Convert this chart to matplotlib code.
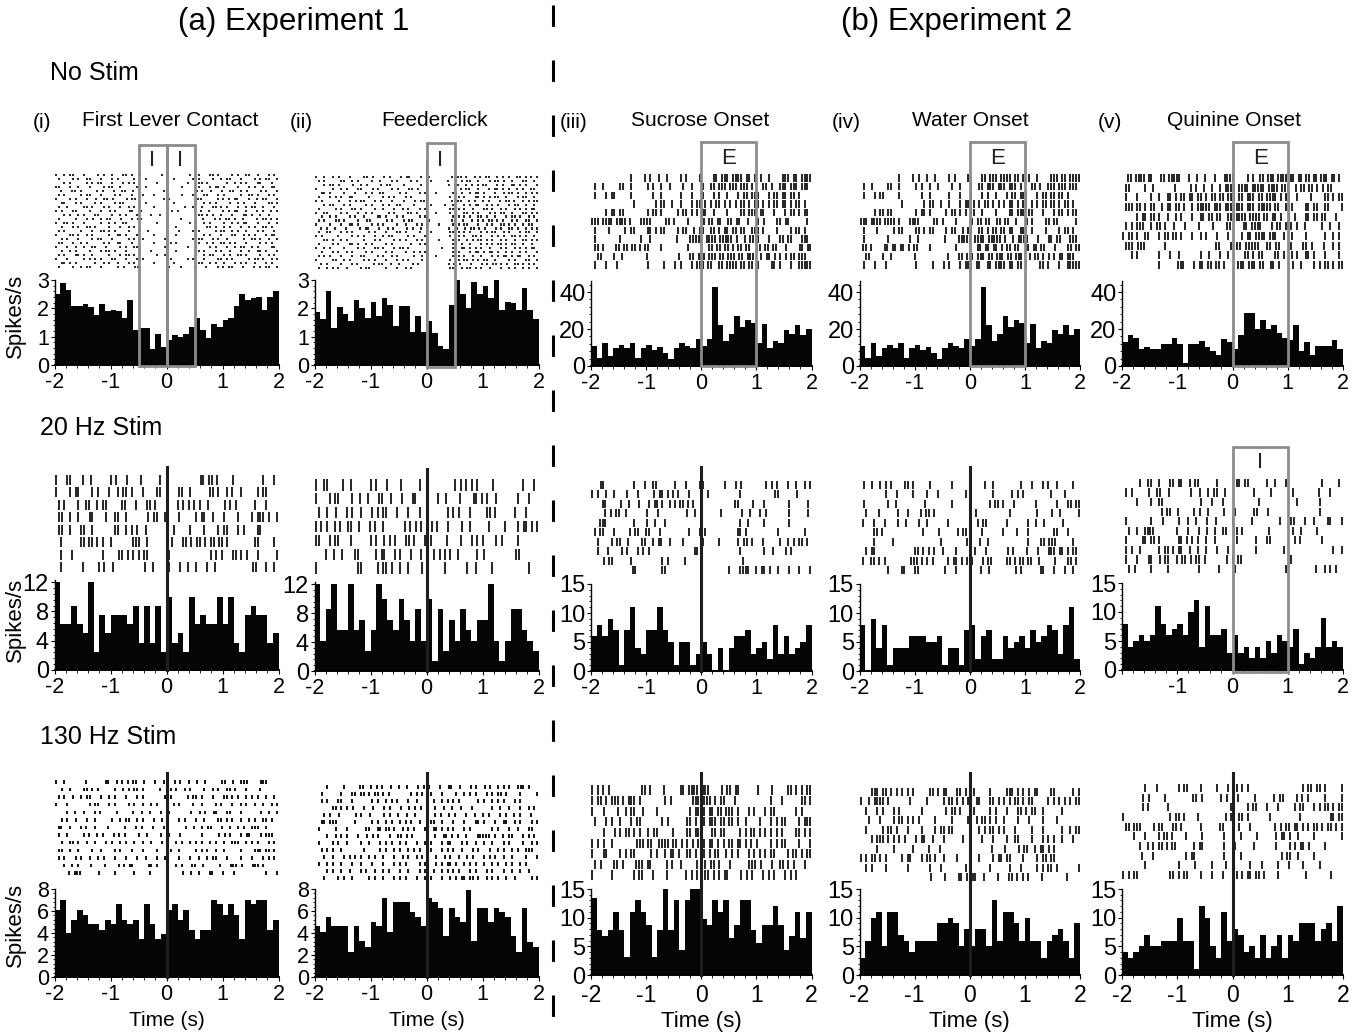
import numpy as np
import matplotlib
matplotlib.use("Agg")
import matplotlib.pyplot as plt
from matplotlib import transforms
from matplotlib.lines import Line2D
from matplotlib.patches import Rectangle
from matplotlib.ticker import MultipleLocator, AutoMinorLocator

# Figure size in pixels (dpi 100)
W, H = 1366, 1034

plt.rcParams['font.family'] = ['Liberation Sans', 'DejaVu Sans']
plt.rcParams['axes.unicode_minus'] = False
NARROW = ['Liberation Sans Narrow', 'Liberation Sans', 'DejaVu Sans']

# ---------------------------------------------------------------
# PSTH values, 40 bins of 0.1 s from -2 to 2 s (spikes/s)
# ---------------------------------------------------------------
LEVER_NOSTIM = [2.5, 2.9, 2.65, 2.1, 2.1, 2.15, 2.05, 1.75, 2.15, 1.9,
                1.95, 1.9, 1.65, 2.3, 1.25, 1.3, 1.3, 0.55, 1.1, 0.65,
                0.9, 1.05, 1.0, 1.1, 1.35, 1.65, 1.25, 0.95, 1.45, 1.35,
                1.6, 1.65, 2.1, 2.5, 2.3, 2.35, 2.4, 1.95, 2.4, 2.6]
FEEDER_NOSTIM = [1.87, 1.63, 2.6, 1.3, 2.06, 1.8, 1.57, 2.3, 2.0, 1.66,
                 2.24, 1.74, 2.36, 2.13, 1.36, 2.1, 2.07, 1.17, 1.74, 1.17,
                 1.57, 1.14, 0.67, 0.56, 2.13, 3.0, 2.5, 2.0, 2.94, 2.5,
                 2.8, 2.38, 3.0, 1.93, 2.24, 2.19, 1.93, 2.73, 1.93, 1.63]
SUCROSE_NOSTIM = [10.7, 4.6, 12.5, 5.5, 9.8, 11.4, 9.8, 12.5, 4.6, 9.8,
                  11.6, 8.7, 10.5, 6.8, 3.7, 9.8, 12.5, 11.0, 9.8, 14.4,
                  10.7, 14.4, 43.0, 22.0, 13.8, 17.5, 27.0, 21.0, 25.0, 23.5,
                  12.5, 22.5, 9.6, 13.8, 12.5, 19.3, 17.5, 22.0, 16.6, 20.0]
WATER_NOSTIM = list(SUCROSE_NOSTIM)
QUININE_NOSTIM = [13, 17, 15.3, 9.4, 10.3, 9.4, 9.4, 12, 12, 15,
                  12, 1.8, 12, 12, 13.7, 10.3, 8, 6, 14.4, 13,
                  9.4, 17, 28.6, 28.6, 20, 24.7, 20, 22, 18, 15.3,
                  14, 22, 8, 13, 6, 11, 11, 11, 14, 9]

LEVER_20HZ = [12, 6.25, 6.25, 8.75, 6.25, 5, 12, 2.5, 7.5, 5,
              7.5, 7.5, 7.5, 6.25, 8.75, 3.75, 8.75, 3.75, 8.75, 2.5,
              10, 3.75, 5, 2.5, 10, 6.25, 7.5, 6.25, 6.25, 10,
              6.25, 10, 3.75, 2.5, 7.5, 8.75, 7.5, 7.5, 3.75, 5]
FEEDER_20HZ = [12, 4.2, 8.5, 12, 5.6, 5.6, 12, 5.6, 7.1, 2.8,
               5.6, 12, 9.9, 7.1, 5.6, 9.9, 7.1, 4.2, 8.5, 4.2,
               9.9, 1.4, 8.5, 2.8, 7.1, 4.2, 8.5, 5.6, 4.2, 7.1,
               7.1, 12, 4.2, 1.4, 4.2, 8.5, 8.5, 5.6, 4.2, 2.8]
SUCROSE_20HZ = [6, 8, 6, 9, 7, 1, 7, 11, 4, 3,
                7, 7, 11, 7, 5, 1, 5, 5, 1, 3,
                5, 3, 0, 4, 0, 4, 6, 6, 7, 3,
                4, 5, 2, 8, 3, 6, 3, 4, 5, 8]
WATER_20HZ = [8, 0, 9, 4, 8, 1, 4, 4, 4, 6,
              6, 6, 5, 5, 6, 1, 4, 4, 1, 7,
              8, 2, 6, 7, 2, 2, 6, 4, 5, 6,
              4, 7, 5, 6, 8, 7, 3, 8, 11, 2]
QUININE_20HZ = [8, 4, 5, 6, 5, 6, 11, 8, 6, 7,
                8, 6, 10, 12, 4, 11, 6, 6, 7, 3,
                6, 3, 4, 2, 4, 2, 5, 3, 6, 5,
                4, 7, 1, 3, 2, 4, 9, 4, 5, 4]

LEVER_130HZ = [6.1, 7, 4, 5.2, 6.1, 5.6, 4.8, 4.8, 4.3, 5.2,
               4.8, 6.6, 5.2, 4.8, 5.2, 3.5, 6.6, 4.8, 3.5, 3.9,
               6.1, 6.6, 5.2, 6.1, 4.3, 3.5, 4.3, 4.3, 7, 6.6,
               5.6, 6.6, 5.6, 3.5, 7, 6.6, 7, 7, 4.3, 5.2]
FEEDER_130HZ = [4.6, 4.1, 5.5, 4.6, 4.6, 4.6, 2.3, 4.6, 3.3, 2.7,
                5.0, 4.6, 7.2, 4.1, 6.8, 6.8, 6.8, 5.9, 5.5, 4.6,
                7.2, 6.8, 6.3, 3.7, 6.3, 5.5, 5.0, 7.9, 3.3, 6.3,
                6.3, 5.0, 6.3, 5.9, 5.5, 3.7, 2.3, 6.3, 3.2, 2.7]
SUCROSE_130HZ = [13.4, 7.8, 6.8, 7.8, 11, 7.8, 3.2, 11, 13.1, 11,
                 8.8, 3.2, 7.8, 15, 7.8, 13.1, 4.4, 13.1, 15, 15,
                 9.8, 8.8, 13.1, 11, 13.1, 6.5, 8.8, 13.1, 13.1, 7.8,
                 5.6, 8.8, 8.8, 12, 8.8, 4.4, 6.8, 11, 6.5, 11]
WATER_130HZ = [3, 6, 10, 11, 5, 11, 11, 7, 6, 4,
               6, 6, 6, 6, 9, 9, 10, 9, 5, 8,
               5, 8, 8, 5, 13, 6, 11, 11, 9, 6,
               10, 6, 6, 3, 6, 7, 8, 6, 3, 9]
QUININE_130HZ = [4, 3, 4, 5, 7, 5, 5, 6, 6, 6,
                 10, 6, 6, 1, 12, 10, 5, 3, 11, 6,
                 8, 7, 4, 5, 3, 7, 3, 5, 7, 3,
                 7, 6, 9, 9, 9, 6, 8, 9, 6, 12]

# ---------------------------------------------------------------
# Rasters: one string per trial, 80 cells of 0.05 s from -2 to 2 s
# ---------------------------------------------------------------
LEVER_RASTER_NOSTIM = [
    "o..o.oo...o....o.o..o...oo.o..o.......o.........o..o...oo.o....o.o..oo..o...o.o.",
    ".o....o.o..oo...o...o.o.....o...o.........o......o.o....o..o.oo...o....o.o.oo..o",
    "...o.o.....o.o.oo...o...o.o.o.......o..........o...oo.o......o..o.o.o...oo...o..",
    "oo...o..o...o....o.oo..o.....o..o.......o....o.....o...o.oo.o....o...o.o..o..oo.",
    "..o...oo.o.....o.o...o..oo..o..........o...........o.o..o...o..oo..o.o....o.o...o",
    ".o.o.....o.oo...o....o.o...o...o...o.........o...o...oo...o.o.....o..oo.o...o.o.",
    "o....o.o...o..o..oo.o....o.oo.........o.o.........oo.....o.o.o.oo...o..o.oo...o",
    "..oo...o.o....o.o....o.oo.....o.o.........o.......o..o.o.o....o..o.o...o....oo.o",
    ".o..o.....oo.o...o.o...o..o.o......o..........o..o..o...oo.o.o...o..o.oo..o...o.",
    "o.o...oo....o...o..o.o....oo..o..........o.o.....o.o..o....o.o.oo..o...o.o..o.o",
    "...o.o..o.o...oo....o..o.o...o....o..o.............oo.o.o..o...o...oo.o..o..o...",
    ".o.....o...o.o..o.oo...o...o.oo........o....o.......o...o.o.oo.o..o....o.oo.o.o",
    "o..oo.o...o.....o..o.o..oo....o.....o...........o.o..o.o....o..o.o.oo...o...o..o",
    "..o...o.o..oo.o....o...o..o.o...........o..o......o...oo.o..o.o...o..o.o..oo.o..",
    ".o.o.....o...o..oo.o.o....o...o..o..........o....o.o.....o.oo..o.o..o...o.o...o.",
    "o....oo.o..o.o.....o..oo.o...o.....o.......o......o..o.o...o...oo..o.o.o...o.oo.",
    "..o.o...o....o.oo...o.....o.o..o.......o.........o.oo...o.o..o.....o..oo.o..o..o",
    ".oo...o..o.o.....o.o..oo...o.......o.....o.o.......o..o.o..oo.o.o...o....o.o.o..",
    "o...o..o..o..oo...o....o.o..oo.........o.......o..o....o.o...o..o.oo..o.o....oo.",
    "..o..o.o....o...o.oo.o...o....o...o........o......oo.o...o.o..o...o..o..oo.o...o",
    ".o.o...oo.o..o.....o...o.oo.o.......o..o..........o..o.oo...o.o..oo.o....o..o.o.",
    "o...o.....o.o.o.o...oo...o...o.o.........o.....o.o...o....oo.o.o.....o.oo.o..o.o",
    "..oo.o.o......o..o.o..o...o.o......o......o........oo..o.o..o...o.o.o..o...o.o..",
    ".o....o..o.oo...o.....o.o...oo..........o...o....o...o...o.o.oo...o...o.o.oo..o",
]
FEEDER_RASTER_NOSTIM = [
    "o..o..o.o...o....oo.o...o.o...o.oo...o..o.......o.oo.o..o.o.oo..o.o.o..oo.o.o.o",
    ".o.o.....oo..o.o....o..o...o.o....o.o....o.....o..o.o.oo..o...o.oo.o..o...oo..o.",
    "...o.oo.o....o..o.o....o.oo....o.....o.o.......o.oo..o.o.o.oo...o.o..oo.o.o...o",
    "o.....o..o.o...oo...o.o....o.o...oo.o............o.o.oo..o...o.oo.o.o..o.o..oo.",
    "..oo.o....o...o...o.o..oo.....o.o....o.o...o.....oo.o..o.oo.o...o..o.oo.o..o.o.o",
    ".o...o.o.o..oo.....o....o.o.o...o.o.....o.......o..o.o...oo.o.o.oo..o...o.oo..o.",
    "o.o.....o...o.o.oo...o.o...o...o...o.oo.........o.oo..o.o..o.o...o.oo.o..o.o.oo",
    "...o.oo...o.o.....o.o...o.o..oo....o.....o....o..o...o.o.oo..o.o.o...o.oo..o..o.",
    ".o.....o.o...oo.o....o..o...o..o.o...o.o........oo.o.o..o...oo.o..o.o..o.o.o.oo.",
    "o..oo....o.o...o..o.o.....o.o....oo.o......o....o.o..oo.o.o...o.o.oo..o...oo.o.o",
    "..o..o.o....o.o..o....oo.o...o.o.....o.o.........o.o.o.o..oo.o..o...o.oo.o..o.o.",
    ".o.o...oo.o....o..oo.....o.o...o.oo.....o.......oo..o..o.o.o.oo.o.o..o.o..oo..o",
    "o....o...o..oo.o....o.o.o....o..o...o.o.....o....o.o.oo...o..o.o..oo.o.o..o.oo..",
    "..o.o..o...o....o.oo...o..o.o....o.o..o.........o..o..o.oo.o.o...o.o..oo.o..o.o.o",
    ".o..oo...o.o.o.....o.o...o...oo.o....o...o......oo.o.o.o...o.o.oo..o.o...o.oo..o",
    "o.o.....o....o.o.o...o..o.oo.....o.o...o........o..o.o..oo.o...o.o.o..oo.o.o..o.",
    "...oo.o..o.o.....o...o.o....o.o.o...o.o.....o....o.o..o.o.oo.o.o..o.o..o..oo.o.o",
    ".o....o.o...oo.o..o.o....o.o......o..o.o.........oo.o..o...o.o.o.oo.o.oo..o..o..",
    "o..o.o....o....o.o...oo.o...o.oo.o......o....o...o..oo.o.o.o..o...o.o..o.o.o.oo.",
    "..o...o.o..o.o....o.o....o.o....o..o.o.o.........o.o...o.oo.o.oo.o..o.o..o.o...o",
    ".o.o.o...o...o..oo....o.o..o.o.....o..o....o.....o.o.o..o..o...o.o.oo.o.oo..o.o.",
    "o.....oo..o.o....o.o.o...o...o.o.o....o.........o..o.oo.o.o.oo..o....o.o...oo..o",
    "..o.o....o...o.o.....o.oo..o..o....o.o..o.......o.o.o...o...o.o.oo.o.o..oo.o.o.o.",
    ".o..o.o.o..o....o.oo.....o...o..o.o.....o.......oo..o.oo.o.o..o...o..o.o..o.o..o",
]
SUCROSE_RASTER_NOSTIM = [
    "..............|....|.|..|..|....|.|....|....||.|||.||||.||.|.|..|....|||.||.||||",
    ".|..|.....||..|.....|.|..|..|....|..|...|..||.|||.|||.|||.|...||.|..|||.|||.|||.",
    ".|...|.||.....|.......|..|......|...|...|...|.|..|...|.||.|||...|.||.||.||.|....",
    "...............|.......|.||..|..|...|.||.|.|.||.|.|.|.||.|.||.|.|.||.||.|.||.|..",
    ".....|.||.||........|.||.|.....|.||.|.|.||..|....|....||.|||.||...|...|.||.|.||.",
    "|||.||||.||||.|...||||.....||.|....|.....|.||.||..||.||..|...|.|....||.||......|.",
    ".|....|.....|.||....||.|.||....|.||..|.||..||.|.||.||.||..|||.|....|....|.||.|..",
    ".|........|.......|..|.........|....|||||.||||.|||||.|..|.||||...|...||.||...|||.",
    ".||.|....||.||.||.|.||....|.........|.......||.||.||.|.||.||..||.||.||...|....||.||",
    "..||....|..|........|...........|...||.|||.|||.||.|||.||.|||..|.||.|.|.|.||.|||..",
    ".|...|...|..........|.....|...|.|...|.|||.||..||.||||.||.||.|....||.|...|..|||||",
]
WATER_RASTER_NOSTIM = list(SUCROSE_RASTER_NOSTIM)
QUININE_RASTER_NOSTIM = [
    "..||.||||.||...||.|||||...|..|..|...|...||||.....|.|..||.|||.||||.||.||.||.||.|||.||.|.",
    ".||.....|..|.......|.....|.|..|..|..|.||||.||||.|||||.||||.|||..|.||.||.|.|.||....",
    ".|...|....|..|..||.|.||.||.||.|.||.||.|||.||.|||.||.||||.|.||..|....|....||.|.||",
    ".|||.||.|.||..|.||.||.|..|.|||||.|||.|||||||.|||.|||||.||..|||....||.||..||....|",
    ".....|.||.||.|..|..|.|...|..||.||.||..|||||||.||||.||.||.|..|.|...||.||.||...|..",
    ".|.|.|||..|.||.|..|...|....|....|....||....||.||||...|.||.|||.|..|.....|..|..|.",
    "|.||.|..||...|.||.||.|...|..|.|...|...|....|.||.||||.|||..|..|....|......|..|.|.",
    ".|||.|||......|................||...|.||.|||||..||.||...|...||.|...|..|.|.",
    "...|.|.......|...|..|.......|..|...|..|.....||.|.||....||.|..|.|..||.|...|....|.",
    ".............|......|||...|.||.||.||.|....|||.|||.||..||.|....|..|....|.|.||.|.||",
]

LEVER_RASTER_20HZ = [
    "|...||....|..|......|.|...|....|......|..............||.||.|.....|..........|...|.",
    "|....|.||....|.|...|..|.||.|...|....||..|...||..|......||.|..|.|..|.....|.||....",
    ".|.|....|..||..|.||.....||...|...||.|...|...|.|.|.|.|..|.....|.|.|......|...|....",
    ".||..|..|...||....|..||..|.......|.||..||...|.....|.||..|...|....|....|.|||.|..|",
    ".||..|...||..|.......||..|.|.|..|.......|.|.....|....|....|.||...|.|....||......",
    "..|......||.||.|.|..|.......|||..|........|...||.|.||.|.||.||.|.........||.....|.",
    "..|...|..........|.....||.|.|.|.||......||..............|.|.|...||.|.|...|......|",
    "..|.......|.....|.|..|...........|..|.....|...|..|..|...|..|.............||...|..|.",
]
FEEDER_RASTER_20HZ = [
    "|..||.....|..|......|.|...|....|......|............|.|.|.|.|.....|..........|...|.",
    "|....|.||....|..|..|...||..|...|...||.......|..|....|....||.|.|..|.......|...|...",
    ".|..|..|...|.|..|...|.|.||...|...|...|.........|.|.|...|.....||.|......|...|....",
    "|.|.|..|.|..||..|...|.|..|.......|.|.|.|...|.|...|....|..|......|.....|....|.||.|.|",
    "||...|.||....|......|.|..|.|.|...||.|...|.|.....|....|...|.|.|....|.|.....|.......",
    "....|..|..|....||......|.||...|.|...|...|....|.|.|.|..|......|..|...........||.......",
    "|..............||.....|.||.|..|..|....|.|.....|.......|..|.....|............|...",
]
SUCROSE_RASTER_20HZ = [
    "...||..........|...|..||......|...|....||.......|...|.|........|.|.|...|..|..|.|",
    "|.|..|..|....|...|.....|.||.|.|.|...|......|...........|............||......|.....",
    "....||.....|..|...|...|.||.|..|.|.||.|.|...............||.....|...|.........|......|.",
    ".....|.|.||..|.......|...|..........|..|.........|.......|..|...|.|........|......|.",
    "...|||..........|....|..|...|............................|..|.....|.........|........",
    ".|.||...|.....|.||..||...|..........|...|.|...........||.|...........|.........|..",
    "..|....|.||..|....||..|.||..|....|......|.....|......|.||.|...|.....|..|.|.||.|.",
    "..|...|....|.|...|.|.|................||...............|........|..|....|.|.......",
    "....|.||......|..........|.|.....|....................|........................",
    "...............||.........||.......................|...||||..|.||.|..|...|...|...|",
]
WATER_RASTER_20HZ = [
    ".|..|..|.|.|....||.|.....|.......|...........|..|.........|...|...|.|..|.....|..",
    ".........|...|.....|....|...|.........|.........|......|.|.|.........|....|.....",
    ".|........|..|..........|.........|.............|.||.|...|.......|.......|...||.||",
    "..|....|......|...|....|.||.|...............|............|.........|.....|..|......|",
    ".|...|...|....|..|....|..|.......|..........|.||.......|.......|..|..|......|......",
    ".....||.|..............|.....|......|.||.....|.......|....|...|.........||...|....",
    ".....|......|.................|.........|....|..|..............|....||.|||......|..",
    "..|.||..............||.|.|.|..|....|......|...|.......|.|....|...|...|||.||.|.||.",
    ".|..||.|.|.........|||.|.|.|.....|.||.|.|||...|.||.....||.|.||.||..|.....|....||.|.",
    "..........|....||...||.........|...|....|...|..|.........|.|......||...|...|..|..",
]
QUININE_RASTER_20HZ = [
    "......|..||..|...||.||..|.||......|......||.||......|..|...|............|.....|.",
    ".|.|.....|..||..|.......|..|..|.||..|.........|.....|.......|........|...|....",
    ".....|....|..||.............|...|...|............|.............|.......|........",
    "..............|.||..|.....|.|..|.....|...|......||...|..................|........",
    ".|........|...|.....|..|..|...|..|.....|......|.........|...||...|..|....||...|",
    "..|..|..||||........|...|...|..|..|..||..||.|.........|........|..|.....|.........",
    ".|.....||.||.|......||.|.|.|..|..|.......|......|...||........|.|.......|.......",
    ".|.|..|......|.||.|.||..|..|..|...|...|.........|.........|.................|..|",
    ".|...|...||..|.||..|.||.|.||.|.......|.|.||.................|..................",
    "..|.|.....|.....|..........|......|.....|.................|..........|..|.|.|..",
]

LEVER_RASTER_130HZ = [
    "|..|.......|......||..|.|.|.||..|...|..||..|.|..|..|..|.....||..|..|||....|||....",
    "..|..|....||.|.|.....|..|.|.||.|.....|...|.|..|.|....|..|.|..||.|...|....|......",
    ".|.|..|..|.||...|..|.|...|...|.|.......|.|.....|.||.|...|...||.|.|..|.|.|..|..|.",
    "|...|.......|.||...|.|....|.|..|..|.|...|.|.|....|..|....|.|...|..|.|..|..|..|.|",
    "....|..|..|...|.|.....|.....|..|..|...|..|.......|..|.|..||...||...|......|..|..|",
    "..|.|..|...|..|.....|..|.||..|.|...|..|.....|.|...|..|....||.|.|..|..|.|..||.|..",
    ".||..|...|.|..|....|.....|...|.|...|...|.......|..|..|.||...|..|..|.|..|||..|....",
    ".|..|.....|.|..|.|...|.|.|....|..|....|..|...|.......|.....|.|.|...|.||...|.|||..",
    "..|..||.|..|..|...|.|..|.|..|..|..|...|....|.|..|.|.|..|.|..|..|||..|.|.|...|.|.",
    ".||..|..|....|..|....|.|...|...|....|....|..|.....|.|.|..|..|.....|....|||.||.|.",
    ".|.|...|.|..|..|.|...|...|...|..|...|..|....|...|..|..|.||...|....|...|...|.|.|.",
    "...|..|.|....|....|....|.|.||.....||.|......|.|...||..|.....|...|||.|...|||.|.....",
    ".....|.|||......|.....|......|.....|...........|..|..|...||...|...|...........|...|",
]
FEEDER_RASTER_130HZ = [
    "....|.....|.....||..|.|.|..|..|..|...|.|.|...|..||..|...|.|..|.|..|.|.|..|||.|...",
    "..|......|...||.||.|.||.|.|.......|.|.|..|...|....|..|.|.|...|.|.||.|....|.....|",
    "..|.|...||...|......|.|..|.|.|...|..|...|.|..|.|.|.|......|.|..|.|.|...|.|......",
    "......||.|.|.|...|..|...|.|...|..|.|.|.|..|..|..|..|...|......|..|..|...|..|.|.",
    "...|.|..|.....|.|..|....|.|..|..|..|...|..|.|..|.|...|..|..|.|...|.|..|.|...|..",
    "..||.|||......|.....|.|..|.|..|.|.|..|...||..|...|...|...||.|...|..||..|.|...|.|",
    ".|.....|...|......||..||.||.|..|.|.|...|..||.|.|.|...|.|.......|.|...|..|...||..",
    "....|..|.|.|...|..|.|.|...|..||.|.|....|..|..||.|.|..|...|||||.|..|.||...|.|.|.",
    ".|....|.|..|....|..|...|.|.|..|.|...|..|.|...|.||...|.|..|..|..|...|.|....|..|.|",
    "..|.|.|..|.......|.....|.|..|.|..|.|.|...|...|.|.|..|...|.|...|..|.|..|.|..|||..",
    "...|..|...|.|.|.|..|.|..|...|..|.|..|.|.|..|..|.|..|..|.|...|.|.|..|..|....|...|",
    ".|..|.|..|...|..|...|...|...|.|.|....|.|...|.|.||.|..|.|.|..|..|.|..|.|..|.|....",
    "....|.|..|..|...|.|..|..|.|...|..|...|.|..|..|.|.|.|...|.|...|.|...|..|..|..|...",
    "...|....|.|..|.....|.|..|...|.|.|...|..|.|...|..|.|.||.||.|..|.|.|..|..|.....|.|",
]
SUCROSE_RASTER_130HZ = [
    "|.|.|.|...........||.|....|.....||.||||.|||....|.||.||......|....|.....||.|.|.||",
    "|.||.|.|||.|.|||.|........|.|.......|||.|||.|.||...|............|...|......||.|",
    "|...|....|..|.||..|....|...........|.||.|.||.||.|||.|...|.|...|.||.......|.|...",
    ".|...|.|..|...|.||.......|.|......||.|.||.|||.||.||.|..|....|...|.|.||....|.|||",
    "....|...|.|.||.|.|..|.||.....|....||.|||...||.||.....|.|.||.|.|.|.|.|....||.|.|",
    "|.|.|..|........|||.||..||||.||.|.|.|.|||.||.|.|.||.||.|.|.|....|.|.||....|...|",
    "|...||....|.|.||.....|.|..|.||.|..||.|..|.|.||..|.|.|...|.|.|.|.||....|.||.|.||",
    ".|.|....||.|....|||.||.....|.|..|.....|..|.||.|...|......|||.|...|..||.|.|...|..",
    "|......|.......|.||...|....|......|.|.|..||.|.|.||....|.|.|...|.|.|...|.|.|.....",
]
WATER_RASTER_130HZ = [
    "....|||.||.|.|.|.|.|.....||.|.||...||.|.||.....|.....|||.|.|.|.||....||......|.|",
    "|..|.||||.|.......|.....|.....|.||.|.|.|..||...||.|.|.|.||.|.||.....|.|.|.|.|.||",
    "..|...|.|...|.|.......|........|.||.|....|.....|.|...|...||.|.||..|......|......",
    "...|...|....|.||.|.|.|.....|.....|.....|..|.||.|.|..|....|...|....|....|........",
    "..|.....|.||.|...|....|....|.||.||......|..|.|.||.|.|...|.....|...|......|..|.||",
    "....|.|||.|.|.|.|...|.||..|...|......|..|...|...|....|..||....|...|.|.|..|...|..",
    "......|.....|......|.....|...|..........|.......|....|....|.||..|.||.|.|.........",
    "|.|.||.|.|.....|.||...|.||.|..|....|.......|....|.||.||....|....|.||.||.........",
    "..|.|....|.......|.......|...|........|........|......|...|.....|.|.||.|.......|",
    ".........................|....|....||.|.||..|....|...||.|.|.|....|........|....",
]
QUININE_RASTER_130HZ = [
    "........|...|.......|.||....|.....|...|.||.|.|...................|.||.||.|.....|",
    ".......|.|.....|.........||.|......|.|.|.|.....|......|.||....|.|.|.....|.....|",
    ".......|.|......|......................|.....|.||...|...|.....|.||...|.|.||.|.||",
    "|................|.||.|....|.........|.||.||.|.......|..........|..........||.||",
    ".||.|||....|.||...||.|......|......||.....|...|........|.|.||.||.|.|.||.|.||.|.|",
    "....|...|....|.||.|....|.....|.......|.....|.....|......|.||.|..|.....|.........|",
    "......|..|.|.||.|.||......|.||.......|...|......|.......|....|.|.||.|.....|......",
    ".......|...|...........|.||..........|.....|..............|.||..|.....|..........",
    "........|...........|.....|.....|....|........|...|.....|...|....|.....|........",
    "|.|.||...........||.|.||....|...|...|....|.|.||.||.|....|.........|........|....",
]

BIN_EDGES = np.arange(40) * 0.1 - 2.0

fig = plt.figure(figsize=(W / 100, H / 100), dpi=100)
fig.patch.set_facecolor('white')

# column extents (pixels) of the -2..2 s axes
COLS = [(54.5, 278.5), (314.5, 538.5), (591, 811.5), (859.5, 1080), (1122, 1343)]
BOX_GREY = '#8c8c8c'


def fx(px):
    return px / W


def fy(py):
    return 1 - py / H


def hist_panel(col, y_top, y_bot, values, ymax, yticks, xlabels=None,
               narrow_y=False, narrow_x=False):
    x0, x1 = COLS[col]
    ax = fig.add_axes([fx(x0), fy(y_bot), (x1 - x0) / W, (y_bot - y_top) / H])
    ax.bar(BIN_EDGES, values, width=0.1, align='edge', color='#050505', linewidth=0)
    ax.set_xlim(-2, 2)
    ax.set_ylim(0, ymax)
    ax.set_yticks(yticks)
    ax.xaxis.set_major_locator(MultipleLocator(1))
    ax.xaxis.set_minor_locator(MultipleLocator(0.2))
    ax.yaxis.set_minor_locator(AutoMinorLocator(5))
    if xlabels is not None:
        ax.set_xticks([-2, -1, 0, 1, 2])
        ax.set_xticklabels(xlabels)
    for side in ('top', 'right'):
        ax.spines[side].set_visible(False)
    ax.spines['left'].set_linewidth(1.0)
    ax.spines['bottom'].set_linewidth(1.4)
    ax.tick_params(which='major', direction='out', length=3, width=0.8,
                   labelsize=15.5, pad=1)
    ax.tick_params(axis='x', which='major', pad=2)
    ax.tick_params(which='minor', direction='out', length=1.8, width=0.6)
    if narrow_y:
        for t in ax.get_yticklabels():
            t.set_family(NARROW)
            t.set_fontsize(17)
    if narrow_x:
        ax.tick_params(axis='x', which='major', pad=3.5)
        for t in ax.get_xticklabels():
            t.set_family(NARROW)
            t.set_fontsize(16.5)
    return ax


def raster_panel(col, first_y, last_y, rows, height, lw):
    x0, x1 = COLS[col]
    n = len(rows)
    pitch = (last_y - first_y) / (n - 1)
    top, bot = first_y - pitch / 2, last_y + pitch / 2
    ax = fig.add_axes([fx(x0), fy(bot), (x1 - x0) / W, (bot - top) / H])
    for i, row in enumerate(rows):
        ts = [-2 + (j + 0.5) * 4 / len(row) for j, c in enumerate(row) if c != '.']
        y = n - i
        ax.vlines(ts, y - height / 2, y + height / 2, color='black', lw=lw)
    ax.set_xlim(-2, 2)
    ax.set_ylim(0.5, n + 0.5)
    ax.axis('off')
    return ax


def zero_line(ax, y_top, y_bot, color='#1e1e1e', lw=2.2):
    trans = transforms.blended_transform_factory(ax.transData, fig.transFigure)
    fig.add_artist(Line2D([0, 0], [fy(y_top), fy(y_bot)], transform=trans,
                          color=color, lw=lw, zorder=5))


def box(ax, t0, t1, y_top, y_bot, label, label_y):
    trans = transforms.blended_transform_factory(ax.transData, fig.transFigure)
    fig.add_artist(Rectangle((t0, fy(y_bot)), t1 - t0, fy(y_top) - fy(y_bot),
                             transform=trans, fill=False, edgecolor=BOX_GREY,
                             lw=2.0, zorder=6))
    fig.text((t0 + t1) / 2, fy(label_y), label, transform=trans,
             ha='center', va='center', fontsize=16, color='#222222')


# ---------------- Row 1: no stimulation ----------------
h = hist_panel(0, 280, 365, LEVER_NOSTIM, 3.0, [0, 1, 2, 3])
raster_panel(0, 175, 267, LEVER_RASTER_NOSTIM, 0.55, 1.2)
box(h, -0.5, 0.0, 145, 366, 'I', 161)
box(h, 0.0, 0.5, 145, 366, 'I', 161)

h = hist_panel(1, 280, 365, FEEDER_NOSTIM, 3.0, [0, 1, 2, 3])
raster_panel(1, 177, 268, FEEDER_RASTER_NOSTIM, 0.55, 1.2)
zero_line(h, 162, 365, color='#111111', lw=1.3)
box(h, 0.0, 0.5, 143, 367, 'I', 161)

for col, vals, rast in [(2, SUCROSE_NOSTIM, SUCROSE_RASTER_NOSTIM),
                        (3, WATER_NOSTIM, WATER_RASTER_NOSTIM),
                        (4, QUININE_NOSTIM, QUININE_RASTER_NOSTIM)]:
    h = hist_panel(col, 281, 366, vals, 46, [0, 20, 40], narrow_y=True)
    raster_panel(col, 178, 265, rast, 0.85, 1.2)
    box(h, 0.0, 1.0, 142, 366, 'E', 158)

# ---------------- Row 2: 20 Hz stimulation ----------------
h = hist_panel(0, 580, 670, LEVER_20HZ, 12.3, [0, 4, 8, 12], narrow_y=True)
raster_panel(0, 480, 567, LEVER_RASTER_20HZ, 0.8, 1.2)
zero_line(h, 467, 670)

h = hist_panel(1, 582, 671, FEEDER_20HZ, 12.3, [0, 4, 8, 12], narrow_y=True)
raster_panel(1, 485, 568, FEEDER_RASTER_20HZ, 0.8, 1.2)
zero_line(h, 469, 671)

for col, vals, rast in [(2, SUCROSE_20HZ, SUCROSE_RASTER_20HZ),
                        (3, WATER_20HZ, WATER_RASTER_20HZ)]:
    h = hist_panel(col, 584, 671, vals, 15, [0, 5, 10, 15], narrow_y=True)
    raster_panel(col, 485, 570, rast, 0.85, 1.2)
    zero_line(h, 467, 671)

h = hist_panel(4, 583, 670, QUININE_20HZ, 15, [0, 5, 10, 15],
               xlabels=['', '-1', '0', '1', '2'], narrow_y=True)
raster_panel(4, 483, 569, QUININE_RASTER_20HZ, 0.85, 1.2)
box(h, 0.0, 1.0, 447, 672, 'I', 462)

# ---------------- Row 3: 130 Hz stimulation ----------------
h = hist_panel(0, 889, 977, LEVER_130HZ, 8, [0, 2, 4, 6, 8])
raster_panel(0, 782, 873, LEVER_RASTER_130HZ, 0.45, 1.3)
zero_line(h, 773, 977)

h = hist_panel(1, 889, 977, FEEDER_130HZ, 8, [0, 2, 4, 6, 8])
raster_panel(1, 787, 878, FEEDER_RASTER_130HZ, 0.45, 1.3)
zero_line(h, 773, 977)

for col, vals, rast, (r0, r1) in [(2, SUCROSE_130HZ, SUCROSE_RASTER_130HZ, (790, 875)),
                                  (3, WATER_130HZ, WATER_RASTER_130HZ, (792, 877)),
                                  (4, QUININE_130HZ, QUININE_RASTER_130HZ, (788, 875))]:
    h = hist_panel(col, 889, 975, vals, 15, [0, 5, 10, 15],
                   narrow_y=True, narrow_x=True)
    raster_panel(col, r0, r1, rast, 0.85, 1.2)
    zero_line(h, 773, 975)

# ---------------- Text ----------------
fig.text(fx(294), fy(22), '(a) Experiment 1', ha='center', va='center', fontsize=22.5)
fig.text(fx(957), fy(22), '(b) Experiment 2', ha='center', va='center', fontsize=22.5)
fig.text(fx(50), fy(73), 'No Stim', ha='left', va='center', fontsize=18)
fig.text(fx(40), fy(428), '20 Hz Stim', ha='left', va='center', fontsize=18)
fig.text(fx(40), fy(737), '130 Hz Stim', ha='left', va='center', fontsize=18)

headers = [(33, '(i)', 170, 'First Lever Contact'),
           (290, '(ii)', 435, 'Feederclick'),
           (560, '(iii)', 700, 'Sucrose Onset'),
           (832, '(iv)', 970, 'Water Onset'),
           (1098, '(v)', 1234, 'Quinine Onset')]
for xl, lab, xc, title in headers:
    fig.text(fx(xl), fy(122), lab, ha='left', va='center', fontsize=15)
    fig.text(fx(xc), fy(121), title, ha='center', va='center', fontsize=15)

for yc in (316, 620, 925):
    fig.text(fx(15), fy(yc), 'Spikes/s', ha='center', va='center',
             rotation=90, fontsize=16)

for i, (x0, x1) in enumerate(COLS):
    if i >= 2:
        fig.text(fx((x0 + x1) / 2), fy(1022), 'Time (s)', ha='center', va='center',
                 fontsize=16, family=NARROW)
    else:
        fig.text(fx((x0 + x1) / 2), fy(1021), 'Time (s)', ha='center', va='center',
                 fontsize=15)

# dashed separator between the two experiments
fig.add_artist(Line2D([fx(553), fx(553)], [fy(5), fy(1032)], transform=fig.transFigure,
                      color='black', lw=2.2, dashes=(7, 11)))

fig.savefig('out.png', dpi=100, facecolor='white')
